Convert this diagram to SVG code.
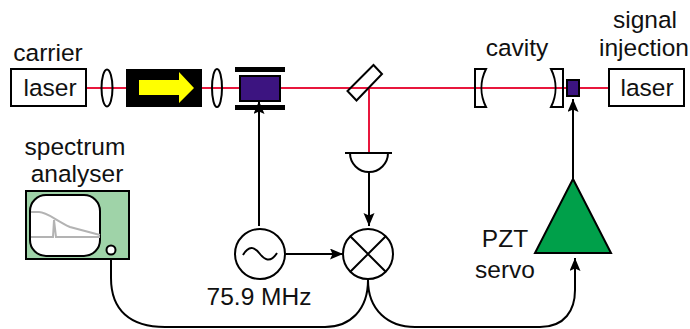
<svg xmlns="http://www.w3.org/2000/svg" width="690" height="329" viewBox="0 0 690 329">
<defs>
<marker id="ah" markerUnits="userSpaceOnUse" markerWidth="14" markerHeight="12" refX="13" refY="5.5" orient="auto"><path d="M0 0L13 5.5L0 11L2.5 5.5Z" fill="#000"/></marker>
</defs>
<style>
text{font-family:"Liberation Sans",Arial,sans-serif;font-size:24.5px;fill:#111;text-anchor:middle}
.o{fill:none;stroke:#000;stroke-width:2}
.w{fill:#fff;stroke:#000;stroke-width:2}
.beam{fill:none;stroke:#e8163c;stroke-width:2}
.wire{fill:none;stroke:#000;stroke-width:2}
.gr{fill:none;stroke:#b3b3b3;stroke-width:2}
</style>
<rect width="690" height="329" fill="#fff"/>
<g id="connectors">
<path class="beam" d="M86 88H608"/>
<path class="beam" d="M369 88V153"/>
<path class="wire" d="M369 172V226" marker-end="url(#ah)"/>
<path class="wire" d="M259 226V101" marker-end="url(#ah)"/>
<path class="wire" d="M286 254H343" marker-end="url(#ah)"/>
<path class="wire" d="M573 180V99" marker-end="url(#ah)"/>
<path class="wire" d="M111 255V278C111 310 130 327 165 327H325C350 327 368 310 368 280"/>
<path class="wire" d="M368 280C368 310 388 327 415 327H540C565 327 575 310 575 290L575 258" marker-end="url(#ah)"/>
</g>
<g id="carrier-laser"><rect class="w" x="11" y="69" width="75" height="37"/><text x="50" y="96">laser</text><text x="48" y="61">carrier</text></g>
<g id="lens1"><ellipse class="o" cx="107" cy="88" rx="5.500" ry="18.500"/></g>
<g id="isolator"><rect x="126" y="69" width="76" height="38" fill="#000"/><path d="M139 80H179V72L194 88L179 103V95H139Z" fill="#ffff00"/></g>
<g id="lens2"><ellipse class="o" cx="217" cy="88" rx="5" ry="19"/></g>
<g id="eom"><rect x="235" y="67" width="50" height="5" fill="#000"/><rect x="235" y="105" width="50" height="5" fill="#000"/><rect x="240" y="76" width="40" height="25" fill="#3c1480" stroke="#000" stroke-width="2"/></g>
<g id="beamsplitter"><path class="o" d="M373.500 65L382 74L356.500 100.500L347.500 91Z"/></g>
<g id="detector"><path class="o" d="M345 153H392"/><path class="o" d="M350 153A19 19 0 0 0 388 153"/></g>
<g id="mirror1"><path class="o" d="M486 69H475V107H486C480 95 480 81 486 69Z"/></g>
<g id="mirror2"><path class="o" d="M551 69H563V107H551C557 95 557 81 551 69Z"/></g>
<g id="pzt"><rect x="567" y="80" width="12" height="16" fill="#3c1480" stroke="#000" stroke-width="2"/></g>
<g id="injection-laser"><rect class="w" x="609" y="69" width="75" height="37"/><text x="647" y="96">laser</text><text x="645" y="28">signal</text><text x="644" y="56">injection</text></g>
<text x="517" y="56">cavity</text>
<g id="spectrum-analyser">
<text x="75" y="155">spectrum</text><text x="77" y="182">analyser</text>
<rect x="26" y="191" width="103" height="68" fill="#9fd3a8" stroke="#000" stroke-width="2"/>
<rect x="30" y="195" width="70" height="61" rx="16" fill="#fff" stroke="#000" stroke-width="2"/>
<path class="gr" d="M31 212H39C47 212 55 220 70 227L100 235M31 237H53L54 220L56 237H100"/>
<circle cx="111" cy="250" r="4.500" class="w"/>
</g>
<g id="oscillator"><circle class="w" cx="260" cy="254" r="25"/><path class="o" d="M243 255C250 243 256 249 260 254C264 259 270 264 277 253"/><text x="259" y="305">75.9 MHz</text></g>
<g id="mixer"><circle class="w" cx="368" cy="254" r="25"/><path class="o" d="M350 236L386 272M386 236L350 272"/></g>
<g id="servo"><path d="M573 179L611 253H535Z" fill="#00a04a" stroke="#000" stroke-width="2"/><text x="505" y="247">PZT</text><text x="505" y="278">servo</text></g>
</svg>
